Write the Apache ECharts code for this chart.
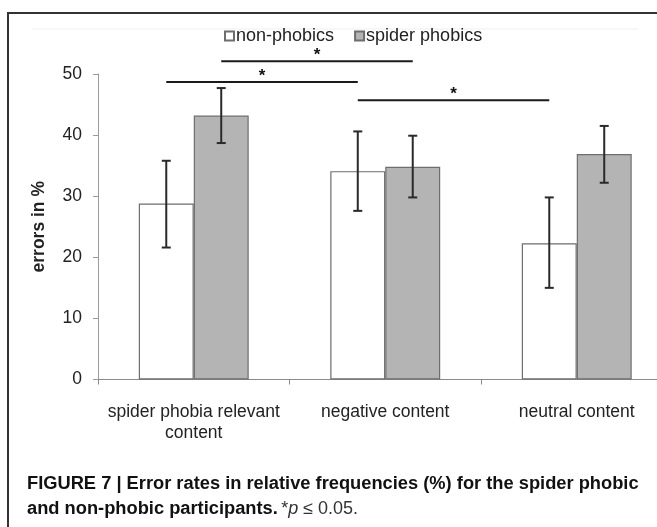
<!DOCTYPE html>
<html>
<head>
<meta charset="utf-8">
<script src="https://cdn.jsdelivr.net/npm/echarts@6/dist/echarts.min.js"></script>
<style>
html,body{margin:0;padding:0;background:#fff;}
#chart{width:657px;height:527px;}
</style>
</head>
<body>
<div id="chart"></div>
<script>
// ---- data ----
var categories = ['spider phobia relevant\ncontent', 'negative content', 'neutral content'];
var seriesNames = ['non-phobics', 'spider phobics'];
var nonPhobics = [28.8, 34.1, 22.3];
var nonPhobicsLow = [21.6, 27.6, 15.0];
var nonPhobicsHigh = [35.8, 40.6, 29.8];
var spiderPhobics = [43.2, 34.8, 36.9];
var spiderPhobicsLow = [38.7, 29.8, 32.2];
var spiderPhobicsHigh = [47.7, 39.9, 41.5];
var yTicks = [0, 10, 20, 30, 40, 50];
// significance brackets: from (category, series) to (category, series) at level
var sigFromCat = [0, 0, 1];
var sigToCat = [1, 1, 2];
var sigSeries = [1, 0, 0];
var sigLevel = [52.1, 48.7, 45.7];
var sigMark = ['*', '*', '*'];

var chart = echarts.init(document.getElementById('chart'), null, {renderer: 'canvas'});
var FONT = "'Liberation Sans', Arial, sans-serif";
var BAR_FRAC = 0.287;

function offsetFor(s, band) { return (s === 0 ? -1 : 1) * band * BAR_FRAC / 2; }

var errData = [];
for (var i = 0; i < categories.length; i++) {
  errData.push([i, nonPhobicsLow[i], nonPhobicsHigh[i], 0]);
  errData.push([i, spiderPhobicsLow[i], spiderPhobicsHigh[i], 1]);
}
var sigData = [];
for (var k = 0; k < sigLevel.length; k++) {
  sigData.push([sigFromCat[k], sigToCat[k], sigLevel[k], sigSeries[k], sigMark[k]]);
}

var CAP_FONT = "'Liberation Sans', Arial, sans-serif";
var option = {
  animation: false,
  backgroundColor: '#fff',
  textStyle: {fontFamily: FONT},
  legend: {
    top: 22,
    left: 219,
    itemWidth: 9,
    itemHeight: 9,
    itemGap: 20,
    icon: 'rect',
    textStyle: {fontSize: 18, color: '#222', fontFamily: FONT, padding: [0, 0, 0, -3]},
    data: seriesNames
  },
  grid: {left: 98, top: 74, width: 574.5, height: 305.5, containLabel: false, outerBoundsMode: 'none'},
  xAxis: {
    type: 'category',
    data: categories,
    axisLine: {lineStyle: {color: '#8a8a8a', width: 1}},
    axisTick: {show: true, length: 5, lineStyle: {color: '#8a8a8a'}},
    axisLabel: {fontSize: 17.5, color: '#222', margin: 22, lineHeight: 21, fontFamily: FONT, interval: 0}
  },
  yAxis: {
    type: 'value',
    min: 0, max: 50, interval: 10,
    name: 'errors in %',
    nameLocation: 'middle',
    nameGap: 50,
    nameRotate: 90,
    nameTextStyle: {fontSize: 17.5, fontWeight: 'bold', color: '#222', fontFamily: FONT},
    axisLine: {show: true, lineStyle: {color: '#9a9a9a', width: 1}},
    axisTick: {show: true, length: 5, lineStyle: {color: '#9a9a9a'}},
    splitLine: {show: false},
    axisLabel: {fontSize: 17.5, color: '#222', margin: 16, fontFamily: FONT,
      formatter: function (v) { return yTicks.indexOf(v) >= 0 ? String(v) : ''; }}
  },
  series: [
    {
      name: seriesNames[0], type: 'bar', data: nonPhobics,
      barWidth: (BAR_FRAC * 100) + '%', barGap: '0%',
      itemStyle: {color: '#ffffff', borderColor: '#6e6e6e', borderWidth: 1.2}
    },
    {
      name: seriesNames[1], type: 'bar', data: spiderPhobics,
      barWidth: (BAR_FRAC * 100) + '%', barGap: '0%',
      itemStyle: {color: '#b4b4b4', borderColor: '#6e6e6e', borderWidth: 1.2}
    },
    {
      type: 'custom', name: 'err', data: errData, clip: false, z: 5,
      renderItem: function (params, api) {
        var band = api.size([1, 0])[0];
        var cx = api.coord([api.value(0), 0])[0] + offsetFor(api.value(3), band);
        var lo = api.coord([api.value(0), api.value(1)])[1];
        var hi = api.coord([api.value(0), api.value(2)])[1];
        var cap = 4.5;
        var st = {stroke: '#2a2a2a', lineWidth: 2};
        return {type: 'group', children: [
          {type: 'line', shape: {x1: cx, y1: lo, x2: cx, y2: hi}, style: st},
          {type: 'line', shape: {x1: cx - cap, y1: lo, x2: cx + cap, y2: lo}, style: st},
          {type: 'line', shape: {x1: cx - cap, y1: hi, x2: cx + cap, y2: hi}, style: st}
        ]};
      }
    },
    {
      type: 'custom', name: 'sig', data: sigData, clip: false, z: 5,
      renderItem: function (params, api) {
        var band = api.size([1, 0])[0];
        var s = api.value(3);
        var x1 = api.coord([api.value(0), 0])[0] + offsetFor(s, band);
        var x2 = api.coord([api.value(1), 0])[0] + offsetFor(s, band);
        var y = api.coord([0, api.value(2)])[1];
        return {type: 'group', children: [
          {type: 'line', shape: {x1: x1, y1: y, x2: x2, y2: y}, style: {stroke: '#1a1a1a', lineWidth: 2}},
          {type: 'text', style: {x: (x1 + x2) / 2, y: y - 14, text: sigData[params.dataIndex][4],
            fontSize: 17, fontWeight: 'bold', fill: '#111', align: 'center', verticalAlign: 'top', fontFamily: FONT}}
        ]};
      }
    }
  ],
  graphic: [
    {type: 'rect', shape: {x: 8, y: 13, width: 720, height: 600}, style: {fill: null, stroke: '#333', lineWidth: 2}, silent: true},
    {type: 'line', shape: {x1: 32, y1: 29, x2: 638, y2: 29}, style: {stroke: '#efefef', lineWidth: 1}, silent: true},
    {type: 'text', left: 27, top: 475, style: {
      text: 'FIGURE 7 | Error rates in relative frequencies (%) for the spider phobic',
      font: "bold 18.3px " + CAP_FONT, fill: '#111'}},
    {type: 'text', left: 27, top: 500, style: {
      text: '{b|and non-phobic participants.} {r|*}{i|p}{r| \u2264 0.05.}',
      rich: {
        b: {font: "bold 18.3px " + CAP_FONT, fill: '#111'},
        r: {font: "18px " + CAP_FONT, fill: '#333'},
        i: {font: "italic 18px " + CAP_FONT, fill: '#333'}
      }}}
  ]
};
chart.setOption(option);
</script>
</body>
</html>
